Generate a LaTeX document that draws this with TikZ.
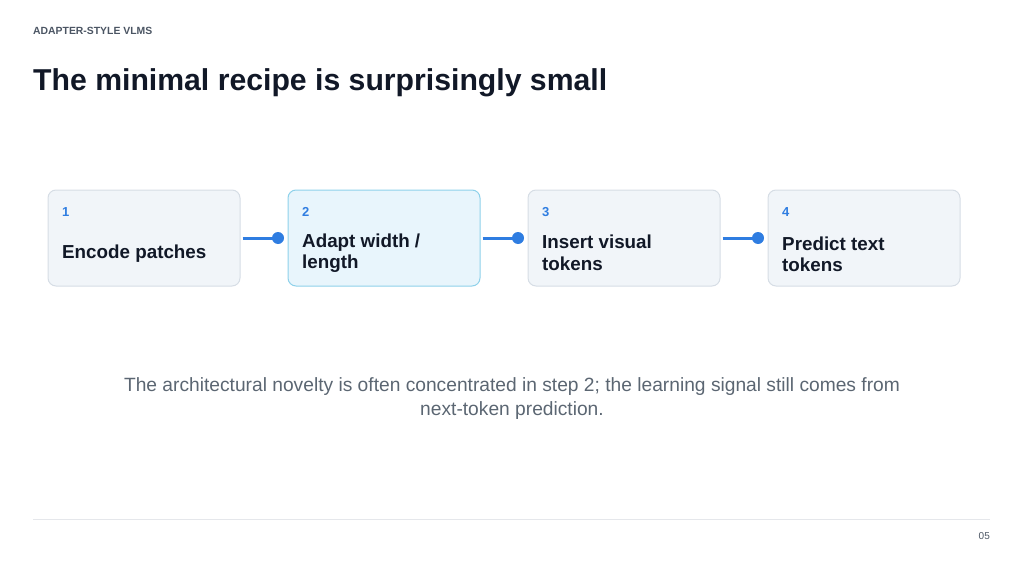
\documentclass[tikz,border=0pt]{standalone}
\usepackage{fontspec}
\setmainfont{Liberation Sans}
\definecolor{boxfill}{HTML}{F1F5F9}
\definecolor{boxline}{HTML}{D6DDE5}
\definecolor{hlfill}{HTML}{E8F5FC}
\definecolor{hlline}{HTML}{8ED1EA}
\definecolor{accent}{HTML}{2F7DE1}
\definecolor{ink}{HTML}{111827}
\definecolor{muted}{HTML}{4B5563}
\definecolor{caption}{HTML}{5B6672}
\definecolor{rule}{HTML}{E5E7EB}
\begin{document}
\begin{tikzpicture}[x=1pt,y=1pt,
  box/.style={draw=boxline,fill=boxfill,line width=1pt,rounded corners=8pt,minimum width=192pt,minimum height=96pt,inner sep=0pt},
  hlbox/.style={box,draw=hlline,fill=hlfill},
  num/.style={anchor=base west,inner sep=0pt,text=accent,font=\bfseries\fontsize{13}{15}\selectfont},
  ttl/.style={anchor=west,inner sep=0pt,text=ink,align=left,font=\bfseries\fontsize{18.8}{21.5}\selectfont},
  dot/.style={circle,fill=accent,minimum size=12pt,inner sep=0pt},
  conn/.style={draw=accent,line width=3pt,shorten <=2pt}]
\useasboundingbox (0,0) rectangle (1024,-575);
\node[anchor=base west,inner sep=0pt,text=muted,font=\bfseries\fontsize{10.4}{12}\selectfont] (hdr) at (33,-35) {ADAPTER-STYLE VLMS};
\node[anchor=base west,inner sep=0pt,text=ink,font=\bfseries\fontsize{30.2}{34}\selectfont] (title) at (33,-91) {The minimal recipe is surprisingly small};
\node[box] (b1) at (144,-238) {};
\node[hlbox] (b2) at (384,-238) {};
\node[box] (b3) at (624,-238) {};
\node[box] (b4) at (864,-238) {};
\node[num] (n1) at (62,-216) {1};
\node[num] (n2) at (302,-216) {2};
\node[num] (n3) at (542,-216) {3};
\node[num] (n4) at (782,-216) {4};
\node[ttl,anchor=base west] (t1) at (62,-258) {Encode patches};
\node[ttl] (t2) at (302,-253) {Adapt width /\\length};
\node[ttl] (t3) at (542,-253) {Insert visual\\tokens};
\node[ttl] (t4) at (782,-254.5) {Predict text\\tokens};
\node[dot] (d1) at (278,-238) {};
\node[dot] (d2) at (518,-238) {};
\node[dot] (d3) at (758,-238) {};
\draw[conn] (b1.east) -- (d1.center);
\draw[conn] (b2.east) -- (d2.center);
\draw[conn] (b3.east) -- (d3.center);
\node[align=center,inner sep=0pt,text=caption,font=\fontsize{19.2}{24}\selectfont] (cap) at (512,-399) {The architectural novelty is often concentrated in step 2; the learning signal still comes from\\next-token prediction.};
\coordinate (r1) at (33,-519);
\coordinate (r2) at (990,-519);
\draw[rule,line width=1pt] (r1) -- (r2);
\node[anchor=base east,inner sep=0pt,text=muted,font=\fontsize{10}{12}\selectfont] (pg) at (990,-539) {05};
\end{tikzpicture}
\end{document}
